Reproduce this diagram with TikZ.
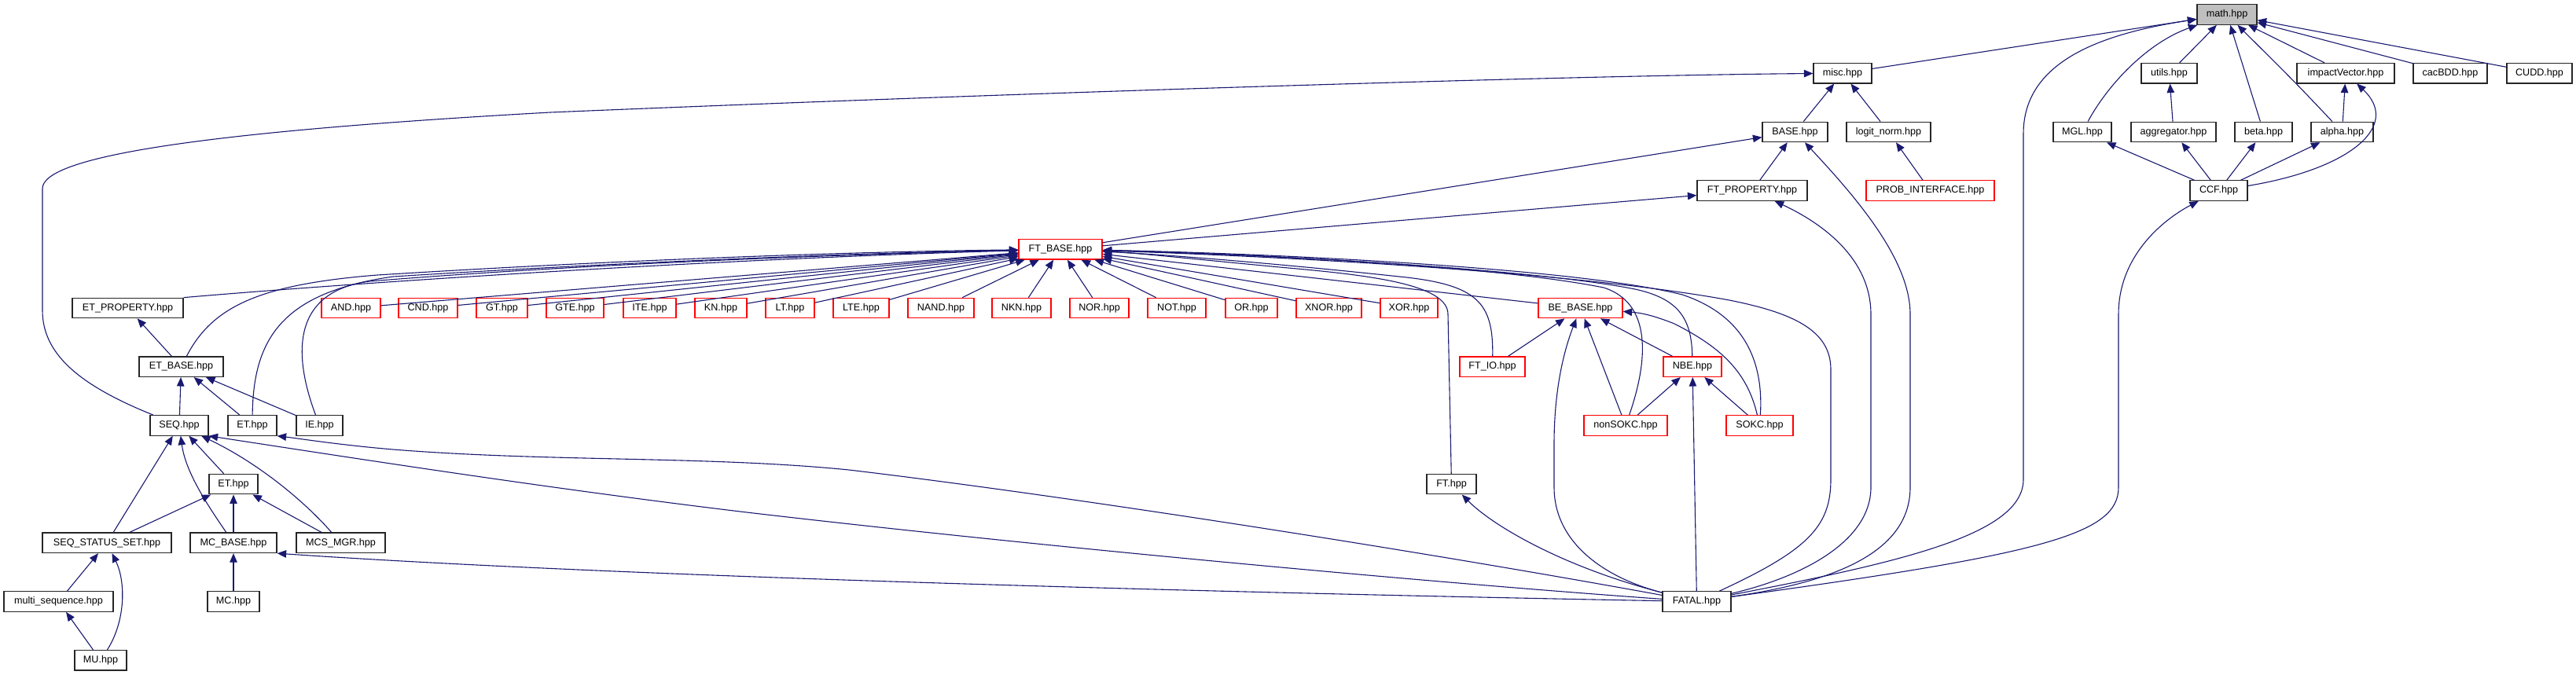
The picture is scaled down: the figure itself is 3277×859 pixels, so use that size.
\documentclass[tikz,border=0pt]{standalone}
\usepackage{fontspec}
\setmainfont{Liberation Sans}
\usetikzlibrary{arrows.meta}
\definecolor{edgecol}{HTML}{191970}
\definecolor{mathfill}{HTML}{BFBFBF}
\tikzset{
  box/.style={draw=black!85, line width=1.2pt, fill=white, inner sep=0pt, minimum height=25.5pt, font=\fontsize{12.6}{14}\selectfont, text=black},
  redbox/.style={box, draw=red},
  mainbox/.style={box, fill=mathfill},
  dep/.style={draw=edgecol, line width=1.1pt, line join=round, -{Triangle[length=11.5pt,width=9.5pt]}},
}
\newcommand\mkbox[6]{\node[#1, minimum width={#4-#3}] (#2) at ({(#3+#4)/2},#5) {#6};}
\begin{document}
\begin{tikzpicture}[x=1pt,y=-1pt]
\useasboundingbox (0,0) rectangle (3277,859);
% row 0
\mkbox{mainbox}{math}{2795}{2871}{18.5}{math.hpp}
% row 1
\mkbox{box}{misc}{2307}{2381}{93.2}{misc.hpp}
\mkbox{box}{utils}{2724}{2795}{93.2}{utils.hpp}
\mkbox{box}{iv}{2922}{3046}{93.2}{impactVector.hpp}
\mkbox{box}{cac}{3070}{3164}{93.2}{cacBDD.hpp}
\mkbox{box}{cudd}{3189}{3272}{93.2}{CUDD.hpp}
% row 2
\mkbox{box}{base}{2242}{2325}{167.9}{BASE.hpp}
\mkbox{box}{logit}{2349}{2456}{167.9}{logit\_norm.hpp}
\mkbox{box}{mgl}{2612}{2686}{167.9}{MGL.hpp}
\mkbox{box}{agg}{2711}{2819}{167.9}{aggregator.hpp}
\mkbox{box}{beta}{2843}{2916}{167.9}{beta.hpp}
\mkbox{box}{alpha}{2940}{3019}{167.9}{alpha.hpp}
% row 3
\mkbox{box}{ftp}{2159}{2299}{242.6}{FT\_PROPERTY.hpp}
\mkbox{redbox}{prob}{2374}{2537}{242.6}{PROB\_INTERFACE.hpp}
\mkbox{box}{ccf}{2786}{2859}{242.6}{CCF.hpp}
% row 4
\mkbox{redbox}{ftb}{1296}{1402}{317.3}{FT\_BASE.hpp}
% row 5
\mkbox{box}{etp}{92}{233}{392}{ET\_PROPERTY.hpp}
\mkbox{redbox}{nAND}{409}{484}{392}{AND.hpp}
\mkbox{redbox}{nCND}{507}{582}{392}{CND.hpp}
\mkbox{redbox}{nGT}{606}{671}{392}{GT.hpp}
\mkbox{redbox}{nGTE}{695}{768}{392}{GTE.hpp}
\mkbox{redbox}{nITE}{793}{860}{392}{ITE.hpp}
\mkbox{redbox}{nKN}{884}{950}{392}{KN.hpp}
\mkbox{redbox}{nLT}{974}{1036}{392}{LT.hpp}
\mkbox{redbox}{nLTE}{1060}{1131}{392}{LTE.hpp}
\mkbox{redbox}{nNAND}{1155}{1239}{392}{NAND.hpp}
\mkbox{redbox}{nNKN}{1262}{1337}{392}{NKN.hpp}
\mkbox{redbox}{nNOR}{1361}{1436}{392}{NOR.hpp}
\mkbox{redbox}{nNOT}{1460}{1534}{392}{NOT.hpp}
\mkbox{redbox}{nOR}{1559}{1625}{392}{OR.hpp}
\mkbox{redbox}{nXNOR}{1649}{1732}{392}{XNOR.hpp}
\mkbox{redbox}{nXOR}{1756}{1829}{392}{XOR.hpp}
\mkbox{redbox}{bebase}{1957}{2064}{392}{BE\_BASE.hpp}
% row 6
\mkbox{box}{etb}{177}{284}{466.7}{ET\_BASE.hpp}
\mkbox{redbox}{ftio}{1857}{1940}{466.7}{FT\_IO.hpp}
\mkbox{redbox}{nbe}{2116}{2190}{466.7}{NBE.hpp}
% row 7
\mkbox{box}{seq}{191}{265}{541.4}{SEQ.hpp}
\mkbox{box}{et}{290}{352}{541.4}{ET.hpp}
\mkbox{box}{ie}{377}{436}{541.4}{IE.hpp}
\mkbox{redbox}{nsokc}{2015}{2121}{541.4}{nonSOKC.hpp}
\mkbox{redbox}{sokc}{2196}{2281}{541.4}{SOKC.hpp}
% row 8
\mkbox{box}{et2}{266}{328}{616.1}{ET.hpp}
\mkbox{box}{ft}{1815}{1878}{616.1}{FT.hpp}
% row 9
\mkbox{box}{sss}{54}{218}{690.8}{SEQ\_STATUS\_SET.hpp}
\mkbox{box}{mcb}{242}{352}{690.8}{MC\_BASE.hpp}
\mkbox{box}{mcs}{377}{490}{690.8}{MCS\_MGR.hpp}
% row 10
\mkbox{box}{ms}{5}{144}{765.5}{multi\_sequence.hpp}
\mkbox{box}{mc}{264}{330}{765.5}{MC.hpp}
\mkbox{box}{fatal}{2115}{2202}{765.5}{FATAL.hpp}
% row 11
\mkbox{box}{mu}{95}{161}{840.2}{MU.hpp}

% ---- edges into math.hpp
\draw[dep] (misc) -- (math);
\draw[dep] (utils) -- (math);
\draw[dep] (beta) -- (math);
\draw[dep] (alpha) .. controls (2920,105) .. (math);
\draw[dep] (iv) -- (math);
\draw[dep] (cac) -- (math);
\draw[dep] (cudd) -- (math);
\draw[dep] (mgl) .. controls (2680,110) and (2730,55) .. (math);
\draw[dep] (fatal) .. controls (2420,715) and (2574,680) .. (2574,610) -- (2574,170) .. controls (2574,75) and (2680,42) .. (math);
% ---- right cluster
\draw[dep] (agg) -- (utils);
\draw[dep] (alpha) -- (iv);
\draw[dep] (ccf) .. controls (2990,215) and (3055,160) .. (iv);
\draw[dep] (ccf) -- (agg);
\draw[dep] (ccf) -- (beta);
\draw[dep] (ccf) -- (alpha);
\draw[dep] (ccf) -- (mgl);
\draw[dep] (fatal) .. controls (2600,705) and (2695,680) .. (2695,620) -- (2695,400) .. controls (2695,320) and (2760,275) .. (ccf);
% ---- misc.hpp
\draw[dep] (base) -- (misc);
\draw[dep] (logit) -- (misc);
\draw[dep] (seq) .. controls (100,490) and (54,450) .. (54,395) -- (54,240) .. controls (54,200) and (250,168) .. (700,143) .. controls (1300,118) and (2000,96) .. (misc);
% ---- BASE / FT_PROPERTY / logit_norm
\draw[dep] (ftb) -- (base);
\draw[dep] (ftp) -- (base);
\draw[dep] (fatal) .. controls (2340,740) and (2430,700) .. (2430,620) -- (2430,400) .. controls (2430,330) and (2360,250) .. (base);
\draw[dep] (prob) -- (logit);
\draw[dep] (ftb) -- (ftp);
\draw[dep] (fatal) .. controls (2290,735) and (2380,690) .. (2380,620) -- (2380,400) .. controls (2380,330) and (2320,285) .. (ftp);
% ---- FT_BASE.hpp
\draw[dep] (etp.north east) .. controls (450,360) and (900,330) .. (ftb);
\draw[dep] (etb) .. controls (270,390) and (330,362) .. (480,350) .. controls (800,330) and (1100,320) .. (ftb);
\draw[dep] (et) .. controls (322,430) and (360,372) .. (500,352) .. controls (800,333) and (1100,322) .. (ftb);
\draw[dep] (ie) .. controls (376,460) and (365,372) .. (470,358) .. controls (750,335) and (1100,323) .. (ftb);
\foreach \n in {nAND,nCND,nGT,nGTE,nITE,nKN,nLT,nLTE,nNAND,nNKN,nNOR,nNOT,nOR,nXNOR,nXOR,bebase}
  \draw[dep] (\n) -- (ftb);
\draw[dep] (ftio) .. controls (1900,385) and (1880,362) .. (1780,352) .. controls (1650,338) and (1500,325) .. (ftb);
\draw[dep] (ft) -- (1842,400) .. controls (1842,365) and (1760,352) .. (1650,342) .. controls (1550,333) and (1450,322) .. (ftb);
\draw[dep] (nsokc) .. controls (2098,455) and (2100,385) .. (2040,366) .. controls (1900,338) and (1600,324) .. (ftb);
\draw[dep] (nbe) .. controls (2152,405) and (2135,380) .. (2080,368) .. controls (1950,342) and (1600,323) .. (ftb);
\draw[dep] (sokc) .. controls (2244,455) and (2215,400) .. (2140,375) .. controls (2000,340) and (1600,322) .. (ftb);
\draw[dep] (fatal) .. controls (2300,700) and (2329,670) .. (2329,610) -- (2329,470) .. controls (2329,420) and (2280,398) .. (2200,382) .. controls (2000,345) and (1600,325) .. (ftb);
% ---- BE_BASE.hpp / NBE.hpp
\draw[dep] (ftio) -- (bebase);
\draw[dep] (nsokc) -- (bebase);
\draw[dep] (nbe) -- (bebase);
\draw[dep] (sokc) .. controls (2222,470) and (2185,440) .. (2130,412) .. controls (2100,400) and (2085,398) .. (bebase);
\draw[dep] (fatal) .. controls (2040,735) and (1977,690) .. (1977,620) -- (1977,565) .. controls (1977,500) and (1988,450) .. (bebase);
\draw[dep] (nsokc) -- (nbe);
\draw[dep] (sokc) -- (nbe);
\draw[dep] (fatal) -- (nbe);
% ---- ET cluster
\draw[dep] (etb) -- (etp);
\draw[dep] (seq) -- (etb);
\draw[dep] (et) -- (etb);
\draw[dep] (ie) -- (etb);
\draw[dep] (sss) -- (seq);
\draw[dep] (mcb) .. controls (262,640) and (236,600) .. (seq);
\draw[dep] (et2) -- (seq);
\draw[dep] (mcs) .. controls (380,630) and (320,585) .. (seq);
\draw[dep] (fatal) .. controls (1800,740) and (1300,693) .. (950,652) .. controls (700,622) and (450,583) .. (seq.south east);
\draw[dep] (fatal) .. controls (1800,700) and (1350,630) .. (1080,598) .. controls (900,580) and (700,588) .. (500,572) .. controls (430,566) and (380,558) .. (et.south east);
\draw[dep] (fatal) .. controls (1600,755) and (800,735) .. (mcb.south east);
\draw[dep] (sss) -- (et2);
\draw[dep] (mcb) -- (et2);
\draw[dep] (mcs) -- (et2);
\draw[dep] (mc) -- (mcb);
\draw[dep] (ms) -- (sss);
\draw[dep] (mu) .. controls (160,790) and (160,740) .. (sss);
\draw[dep] (mu) -- (ms);
% ---- FT.hpp
\draw[dep] (fatal) .. controls (1990,722) and (1900,670) .. (ft);
\end{tikzpicture}
\end{document}
